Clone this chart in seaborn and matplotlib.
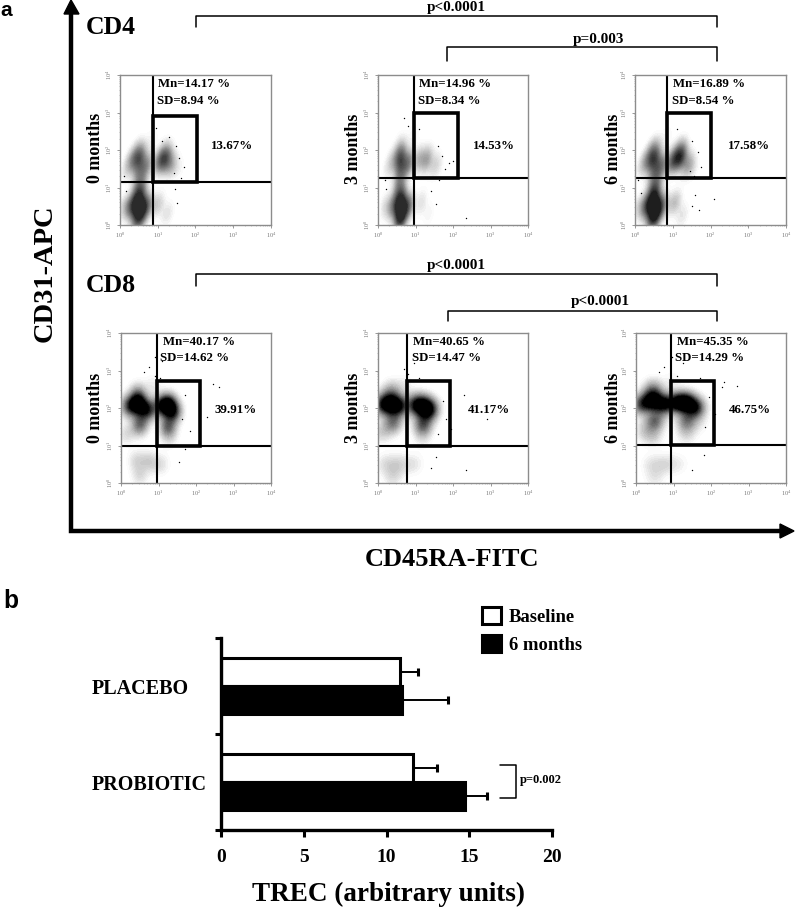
import matplotlib
matplotlib.use('Agg')
import matplotlib.pyplot as plt
from matplotlib.patches import Rectangle
import numpy as np
import pandas as pd
import seaborn as sns

W, H = 796, 909

# flow panels (log10 units, 0-4 on both axes)
panel_labels = ['0 months', '3 months', '6 months'] * 2
panel_mn = ['Mn=14.17 %', 'Mn=14.96 %', 'Mn=16.89 %', 'Mn=40.17 %', 'Mn=40.65 %', 'Mn=45.35 %']
panel_sd = ['SD=8.94 %', 'SD=8.34 %', 'SD=8.54 %', 'SD=14.62 %', 'SD=14.47 %', 'SD=14.29 %']
panel_pct = ['13.67%', '14.53%', '17.58%', '39.91%', '41.17%', '46.75%']

gate_v = [0.88, 0.96, 0.85, 0.96, 0.77, 0.93]
gate_h = [1.15, 1.25, 1.25, 1.00, 1.00, 1.01]
gate_right = [2.03, 2.13, 2.00, 2.11, 1.92, 2.08]
gate_top = [2.90, 2.99, 2.99, 2.72, 2.72, 2.72]

# estimated population density: centre x, centre y, relative weight
dens_x = [
    [.30, .50, .70, .50, .50, 1.05, 1.20, 1.35, 1.20, .30, .50, .70, .50, .50, .55, 1.00, 1.25, 1.55, .85, .15, .10],
    [.40, .60, .80, .60, .60, 1.10, 1.30, 1.50, .40, .60, .80, .60, .60, .55, 1.15, 1.35, 1.60, .95, .25, .20],
    [.30, .50, .70, .50, .50, 1.00, 1.20, 1.40, 1.20, .30, .50, .70, .50, .50, .55, 1.05, 1.25, 1.55, .85, .15, .10],
    [.20, .45, .70, .45, .50, 1.05, 1.25, 1.40, 1.25, .40, .70, .50, 1.10, .90, .15, 1.30, .85],
    [.10, .35, .60, .35, .40, 1.00, 1.20, 1.40, 1.20, .20, .50, .40, 1.00, .75, .10, 1.20, .70],
    [.15, .45, .75, .45, .50, 1.10, 1.35, 1.60, 1.35, .40, .70, .50, 1.15, .45, 1.35, .90, .20, 1.70, .95],
]
dens_y = [
    [1.70, 1.75, 1.60, 2.00, 1.35, 1.70, 1.75, 1.60, 2.00, .50, .50, .50, .15, .85, 1.05, .55, .30, 1.50, 2.30, 1.40, .50],
    [1.70, 1.75, 1.65, 2.05, 1.40, 1.75, 1.75, 1.60, .50, .50, .50, .15, .85, 1.10, .60, .30, 1.60, 2.40, 1.50, .50],
    [1.70, 1.75, 1.60, 2.05, 1.35, 1.70, 1.80, 1.60, 2.05, .50, .50, .50, .15, .85, 1.10, .60, .25, 1.50, 2.40, 1.50, .50],
    [2.05, 2.10, 1.95, 2.40, 1.55, 2.05, 2.10, 1.90, 1.50, .60, .60, .20, .50, .50, 1.30, 1.20, 2.60],
    [2.10, 2.10, 2.05, 2.45, 1.60, 2.10, 2.05, 1.95, 1.55, .50, .50, .15, .50, .50, 1.35, 1.20, 2.60],
    [2.10, 2.20, 2.10, 2.50, 1.65, 2.15, 2.15, 2.00, 1.65, .50, .50, .15, .50, 1.25, 1.30, .50, 1.40, 1.60, 2.70],
]
dens_w = [
    [4, 7, 5, 3, 4, 5, 7, 4, 2, 7, 12, 7, 8, 6, 3, 3, 2, 1, 1, 1, 2],
    [3, 8, 7, 3, 4, 4, 5, 2, 6, 13, 8, 10, 6, 3, 2, 1, 1, 1, 1, 2],
    [4, 8, 6, 4, 4, 7, 9, 5, 3, 7, 12, 7, 9, 7, 3, 4, 2, 1, 1, 1, 2],
    [10, 18, 13, 6, 10, 10, 16, 12, 10, 3, 3, 3, 2, 2, 3, 2, 2],
    [12, 18, 13, 6, 10, 12, 16, 14, 12, 3, 3, 3, 2, 2, 4, 2, 2],
    [16, 22, 20, 10, 14, 20, 22, 18, 12, 3, 3, 3, 2, 5, 4, 2, 4, 2, 2],
]
dens_grey = ['#2a2a2a', '#2a2a2a', '#1e1e1e', '#000000', '#000000', '#000000']

# isolated events that sit outside the main populations
stray_x = [
    [1.42, 1.55, 1.62, 1.70, 1.48, 1.30, .10, .15, .95, 1.10, 1.45, 1.52],
    [1.62, 1.70, 1.78, 1.60, 1.90, 1.10, .18, .22, 1.40, 1.55, 2.00, 2.35, .70, .80],
    [1.55, 1.68, 1.75, 1.50, 1.45, 1.10, 1.60, 1.70, .08, .15, 1.50, 2.10],
    [1.62, 1.70, 1.85, 2.45, 2.60, 2.30, .60, .75, .90, 1.05, 1.10, .90, 1.70, 1.55],
    [1.60, 1.72, 1.80, 1.95, 2.30, 2.90, .80, .95, 1.10, .70, 1.05, 1.55, 1.40, 2.35],
    [1.85, 1.95, 2.10, 2.30, 2.35, 2.70, .60, .75, .95, 1.10, 1.25, 1.80, 1.50, 1.70],
]
stray_y = [
    [1.40, 1.80, 1.25, 1.55, 2.10, 2.35, 1.30, .90, 2.60, 2.25, .95, .60],
    [1.20, 1.85, 1.50, 2.10, 1.65, 2.55, 1.20, .95, .90, .55, 1.70, .20, 2.85, 2.65],
    [1.30, 1.95, 1.55, 2.25, 1.45, 2.55, .80, .40, 1.20, .85, .50, .70],
    [1.70, 2.35, 1.40, 2.65, 2.55, 1.75, 2.95, 3.10, 2.85, 2.80, 3.25, 3.35, .90, .55],
    [1.30, 2.20, 1.70, 1.45, 2.35, 1.70, 2.90, 3.20, 2.80, 3.05, 3.30, .70, .40, .35],
    [1.50, 2.30, 1.85, 2.55, 2.70, 2.60, 2.95, 3.10, 3.35, 2.85, 3.20, .75, .35, 2.80],
]

# panel b
groups = ['PLACEBO', 'PROBIOTIC']
times = ['Baseline', '6 months']
trec_baseline = [10.8, 11.6]
trec_6m = [10.95, 14.75]
err_baseline = [1.1, 1.45]
err_6m = [2.75, 1.3]

serif = 'Liberation Serif'


def px_axes(fig, left, right, top, bottom):
    return fig.add_axes([left / W, 1 - bottom / H, (right - left) / W, (bottom - top) / H])


def draw_panel(fig, i, box):
    ax = px_axes(fig, *box)
    cmap = sns.blend_palette(['white', '#8a8a8a', dens_grey[i], dens_grey[i]], as_cmap=True)
    sns.kdeplot(x=dens_x[i], y=dens_y[i], weights=dens_w[i], fill=True, cmap=cmap, levels=40,
                thresh=0.02, bw_method=0.36, gridsize=120, clip=((0, 4), (0, 4)), ax=ax)
    sns.scatterplot(x=stray_x[i], y=stray_y[i], s=1, color='black', linewidth=0, ax=ax)
    ax.set_xlim(0, 4)
    ax.set_ylim(0, 4)
    ax.set_xlabel('')
    ax.set_ylabel('')
    # gate lines and the CD31+ naive box
    ax.axhline(gate_h[i], color='black', lw=1.5)
    ax.axvline(gate_v[i], color='black', lw=1.5)
    ax.add_patch(Rectangle((gate_v[i], gate_h[i]), gate_right[i] - gate_v[i], gate_top[i] - gate_h[i],
                           fill=False, edgecolor='black', lw=2.6, zorder=3))
    ticks = [0, 1, 2, 3, 4]
    labels = ['10$^{%d}$' % t for t in ticks]
    minor = np.concatenate([d + np.log10(np.arange(2, 10)) for d in range(4)])
    ax.set_xticks(ticks, labels, fontsize=4.5, color='#777777')
    ax.set_yticks(ticks, labels, fontsize=4.5, color='#777777', rotation=90, va='center')
    ax.set_xticks(minor, minor=True)
    ax.set_yticks(minor, minor=True)
    ax.tick_params(which='major', length=2, width=.6, color='#888888', pad=2, bottom=True, left=True)
    ax.tick_params(which='minor', length=1, width=.4, color='#999999', bottom=True, left=True)
    for s in ax.spines.values():
        s.set_color('#8c8c8c')
        s.set_linewidth(1)
    return ax


def main():
    sns.set_style('white')
    plt.rcParams['font.family'] = [serif, 'DejaVu Sans']
    plt.rcParams['text.color'] = 'black'
    plt.rcParams['axes.labelcolor'] = 'black'
    plt.rcParams['xtick.color'] = 'black'
    plt.rcParams['ytick.color'] = 'black'
    plt.rcParams['mathtext.fontset'] = 'custom'
    plt.rcParams['mathtext.rm'] = serif
    fig = plt.figure(figsize=(W / 100, H / 100), dpi=100)

    boxes = [(120, 271, 75, 225), (378, 528, 75, 225), (635, 786, 75, 225),
             (121, 271, 333, 483), (378, 528, 333, 483), (636, 786, 333, 483)]
    for i, box in enumerate(boxes):
        draw_panel(fig, i, box)

    # panel b bars
    df = pd.DataFrame({
        'group': groups * 2,
        'time': [times[0]] * 2 + [times[1]] * 2,
        'trec': trec_baseline + trec_6m,
    })
    ax = px_axes(fig, 221, 552, 638, 830)
    sns.barplot(data=df, y='group', x='trec', hue='time', hue_order=times, orient='h',
                palette={'Baseline': 'white', '6 months': 'black'}, width=0.58, errorbar=None,
                edgecolor='black', linewidth=2.2, ax=ax)
    for cont, errs, vals in zip(ax.containers, [err_baseline, err_6m], [trec_baseline, trec_6m]):
        ys = [p.get_y() + p.get_height() / 2 for p in cont]
        ax.errorbar(vals, ys, xerr=[[0, 0], errs], fmt='none', ecolor='black', elinewidth=1.4,
                    capsize=3, capthick=2.2, zorder=0.5)
    ax.set_xlim(0, 20)
    ax.set_ylim(1.5, -0.5)
    ax.set_xticks([0, 5, 10, 15, 20])
    ax.set_xticklabels(['0', '5', '10', '15', '20'], fontsize=14, fontweight='bold')
    ax.set_yticks([0, 1], groups, fontsize=14.5, fontweight='bold', ha='left')
    ax.set_yticks([-0.5, 0.5, 1.5], minor=True)
    ax.tick_params(axis='y', which='major', length=0, pad=93)
    ax.tick_params(axis='y', which='minor', length=4, width=2.2, left=True)
    ax.tick_params(axis='x', length=5, width=2.2, pad=9, bottom=True)
    ax.set_xlabel('TREC (arbitrary units)', fontsize=19.5, fontweight='bold', labelpad=11, x=0.505)
    ax.set_ylabel('')
    sns.despine(ax=ax)
    ax.spines['left'].set_linewidth(2.4)
    ax.spines['bottom'].set_linewidth(2.4)
    ax.spines['left'].set_color('black')
    ax.spines['bottom'].set_color('black')
    ax.legend(loc='upper left', bbox_to_anchor=(0.789, 1.161), frameon=False, borderpad=0, borderaxespad=0,
              handlelength=1, handleheight=1, handletextpad=0.45, labelspacing=0.5,
              prop={'family': serif, 'weight': 'bold', 'size': 13.4})
    # bracket next to the probiotic bars
    ax.plot([16.86, 17.8, 17.8, 16.86], [0.82, 0.82, 1.17, 1.17], color='black', lw=1.1, clip_on=False)
    ax.text(18.05, 0.98, 'p=0.002', fontsize=9, fontweight='bold', va='center')

    # overlay in picture pixels for the arrows, brackets and free text
    ov = fig.add_axes([0, 0, 1, 1], facecolor='none')
    ov.set_xlim(0, W)
    ov.set_ylim(H, 0)
    ov.axis('off')
    ov.plot([71, 71, 780], [12, 531, 531], color='black', lw=3.2, solid_joinstyle='miter')
    ov.fill([64, 71, 79], [14, 0, 14], color='black')
    ov.fill([780, 794, 780], [524, 531, 538], color='black')

    brackets = [(196, 717, 15.5, 27, 'p<0.0001', 456, 7.5),
                (447, 717, 47, 61, 'p=0.003', 598, 40),
                (196, 717, 274, 286, 'p<0.0001', 456, 265.5),
                (448, 717, 311, 321, 'p<0.0001', 600, 301.5)]
    for x0, x1, y0, y1, label, tx, ty in brackets:
        ov.plot([x0, x0, x1, x1], [y1, y0, y0, y1], color='black', lw=1.1)
        ov.text(tx, ty, label, fontsize=11, fontweight='bold', ha='center', va='center')

    ov.text(86, 28, 'CD4', fontsize=18.5, fontweight='bold', va='center')
    ov.text(86, 285, 'CD8', fontsize=18.5, fontweight='bold', va='center')
    ov.text(45, 273, 'CD31-APC', fontsize=20.5, fontweight='bold', rotation=90, ha='center', va='center')
    ov.text(452, 559, 'CD45RA-FITC', fontsize=19, fontweight='bold', ha='center', va='center')
    ov.text(0.5, 16, 'a', family=['Liberation Sans'], fontsize=15, fontweight='bold', va='baseline')
    ov.text(3, 608, 'b', family=['Liberation Sans'], fontsize=17.7, fontweight='bold', va='baseline')

    # per panel text: months, Mn, SD, gate percentage
    month_xy = [(96, 148), (354, 149), (613, 149), (95, 408), (354, 408), (613, 408)]
    mn_xy = [(158, 84), (419, 84), (673, 84), (163, 342), (413, 342), (677, 342)]
    sd_xy = [(157, 101), (418, 101), (672, 101), (160, 358), (412, 358), (675, 358)]
    pct_xy = [(232, 146), (494, 146), (749, 146), (236, 410), (489, 410), (750, 410)]
    for i in range(6):
        ov.text(*month_xy[i], panel_labels[i], fontsize=13, fontweight='bold', rotation=90,
                ha='center', va='center')
        ov.text(*mn_xy[i], panel_mn[i], fontsize=9.3, fontweight='bold', va='center')
        ov.text(*sd_xy[i], panel_sd[i], fontsize=9.3, fontweight='bold', va='center')
        ov.text(*pct_xy[i], panel_pct[i], fontsize=9.3, fontweight='bold', ha='center', va='center')

    plt.savefig('out.png', dpi=100)
    plt.close()


if __name__ == "__main__":
    main()
